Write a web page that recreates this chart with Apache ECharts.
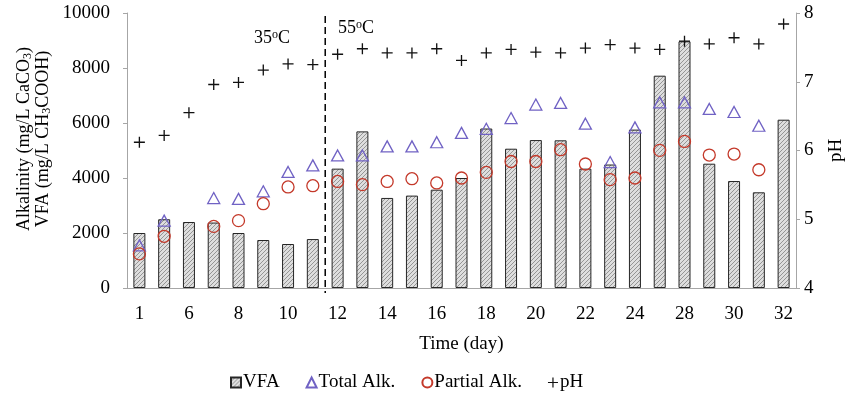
<!DOCTYPE html>
<html><head><meta charset="utf-8">
<script src="https://cdn.jsdelivr.net/npm/echarts@6/dist/echarts.min.js"></script>
<style>html,body{margin:0;padding:0;background:#fff}#c{width:851px;height:395px}</style>
</head><body><div id="c"></div>
<script>
const days = ["1","4","6","7","8","9","10","11","12","13","14","15","16","17","18","19","20","21","22","23","24","26","28","29","30","31","32"];
const vfa = [2000,2500,2400,2380,2000,1745,1600,1780,4340,5695,3275,3360,3575,4000,5800,5065,5380,5370,4340,4490,5760,7720,8970,4520,3890,3480,6120];
const totalAlk = [1550,2450,null,3270,3240,3515,4220,4460,4820,4820,5150,5150,5300,5640,5790,6180,6670,6730,5975,4580,5840,6750,6750,6510,6400,5900,null];
const partialAlk = [1240,1880,null,2240,2450,3065,3675,3720,3875,3760,3875,3975,3820,4000,4205,4600,4600,5030,4510,3940,4000,5005,5330,4835,4870,4300,null];
const pH = [6.12,6.22,6.55,6.96,6.99,7.17,7.26,7.25,7.40,7.48,7.42,7.42,7.48,7.31,7.42,7.47,7.43,7.42,7.49,7.54,7.49,7.47,7.59,7.55,7.64,7.55,7.84];
const leftAxis = {min:0, max:10000, interval:2000};
const rightAxis = {min:4, max:8, interval:1};

const FONT = 'Liberation Serif';
function hatch(){
  const c=document.createElement('canvas'); c.width=4; c.height=4;
  const g=c.getContext('2d');
  g.fillStyle='#dedede'; g.fillRect(0,0,4,4);
  g.strokeStyle='#8c8c8c'; g.lineWidth=0.9;
  g.beginPath();
  g.moveTo(0,4); g.lineTo(4,0);
  g.moveTo(-1,1); g.lineTo(1,-1);
  g.moveTo(3,5); g.lineTo(5,3);
  g.stroke();
  return c;
}
const hatchColor = {image: hatch(), repeat: 'repeat'};
const PLUS = 'path://M4.4,0H5.6V10H4.4ZM0,4.4H10V5.6H0Z';
const axisGray = '#a6a6a6';
const FS = 19;
const lbl = {fontFamily: FONT, fontSize: FS, color: '#000'};

const chart = echarts.init(document.getElementById('c'), null, {renderer:'canvas'});
chart.setOption({
  animation: false,
  textStyle: {fontFamily: FONT},
  grid: {left: 127, right: 55, top: 13, bottom: 107, containLabel: false, outerBoundsMode: 'none'},
  legend: {
    left: 225, top: 368, itemWidth: 10, itemHeight: 10, itemGap: 26,
    textStyle: {fontFamily: FONT, fontSize: FS, color: '#000', padding: [0,0,0,-3]},
    data: [
      {name: 'VFA', icon: 'rect'},
      {name: 'Total Alk.', icon: 'triangle'},
      {name: 'Partial Alk.', icon: 'circle'},
      {name: 'pH', icon: PLUS}
    ]
  },
  xAxis: {
    type: 'category', data: days, boundaryGap: true,
    name: 'Time (day)', nameLocation: 'middle', nameGap: 47,
    nameTextStyle: lbl,
    axisLine: {lineStyle: {color: axisGray, width: 1}},
    axisTick: {interval: 0, length: 5, lineStyle: {color: axisGray}},
    axisLabel: Object.assign({interval: 1, margin: 17}, lbl),
    splitLine: {show: false}
  },
  yAxis: [
    Object.assign({
      type: 'value', position: 'left',
      axisLine: {show: true, lineStyle: {color: axisGray}},
      axisTick: {show: true, length: 4, lineStyle: {color: axisGray}},
      axisLabel: Object.assign({margin: 17, formatter: v => String(v)}, lbl),
      splitLine: {show: false}
    }, leftAxis),
    Object.assign({
      type: 'value', position: 'right',
      name: 'pH', nameLocation: 'middle', nameGap: 31, nameRotate: 90,
      nameTextStyle: lbl,
      axisLine: {show: true, lineStyle: {color: axisGray}},
      axisTick: {show: true, length: 4, lineStyle: {color: axisGray}},
      axisLabel: Object.assign({margin: 8, formatter: v => String(v)}, lbl),
      splitLine: {show: false}
    }, rightAxis)
  ],
  series: [
    {name: 'VFA', type: 'bar', data: vfa, barWidth: 12,
     itemStyle: {color: hatchColor, borderColor: '#262626', borderWidth: 1}},
    {name: 'Total Alk.', type: 'scatter', data: totalAlk, symbol: 'triangle', symbolSize: [12, 11],
     itemStyle: {color: 'rgba(0,0,0,0)', borderColor: '#7062c4', borderWidth: 1.3, opacity: 1}},
    {name: 'Partial Alk.', type: 'scatter', data: partialAlk, symbol: 'circle', symbolSize: 12,
     itemStyle: {color: 'rgba(0,0,0,0)', borderColor: '#c4392a', borderWidth: 1.3, opacity: 1}},
    {name: 'pH', type: 'scatter', yAxisIndex: 1, data: pH, symbol: PLUS, symbolSize: 11,
     itemStyle: {color: '#111', opacity: 1}}
  ]
});

const x7 = chart.convertToPixel({xAxisIndex: 0}, days[7]);
const x8 = chart.convertToPixel({xAxisIndex: 0}, days[8]);
const xm = (x7 + x8) / 2;
const yTop = chart.convertToPixel({yAxisIndex: 0}, leftAxis.max);
const yBot = chart.convertToPixel({yAxisIndex: 0}, leftAxis.min);
const rich = {
  n: {fontFamily: FONT, fontSize: 18, lineHeight: 19, color: '#000'},
  s: {fontFamily: FONT, fontSize: 12, lineHeight: 12, verticalAlign: 'bottom', color: '#000'},
  u: {fontFamily: FONT, fontSize: 12, lineHeight: 12, verticalAlign: 'top', color: '#000'}
};
chart.setOption({
  graphic: [
    {type: 'line', shape: {x1: xm, y1: yTop + 3, x2: xm, y2: yBot + 5},
     style: {stroke: '#000', lineWidth: 1.5, lineDash: [7, 4]}, z: 10},
    {type: 'text', x: 272, y: 38,
     style: {text: '{n|35}{u|o}{n|C}', rich: rich, align: 'center', verticalAlign: 'middle'}},
    {type: 'text', x: 356, y: 28,
     style: {text: '{n|55}{u|o}{n|C}', rich: rich, align: 'center', verticalAlign: 'middle'}},
    {type: 'text', x: 34, y: 139, rotation: Math.PI / 2,
     style: {text: '{n|Alkalinity (mg/L CaCO}{s|3}{n|)}\n{n|VFA (mg/L CH}{s|3}{n|COOH)}',
             rich: rich, align: 'center', verticalAlign: 'middle'}}
  ]
});
</script></body></html>
